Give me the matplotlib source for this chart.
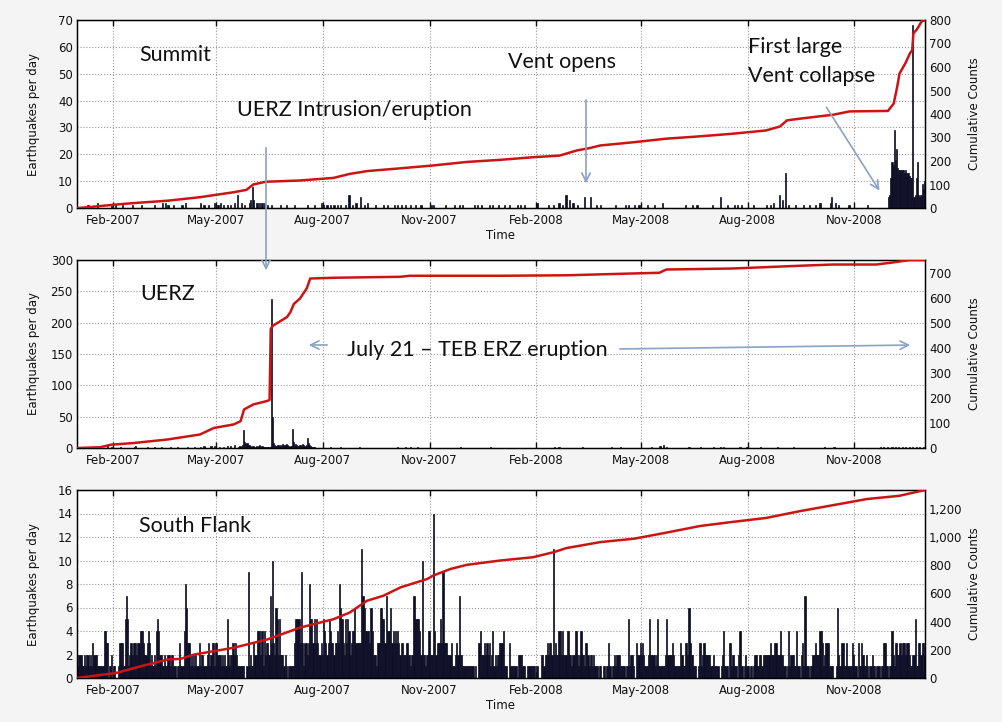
import numpy as np
import matplotlib
matplotlib.use("Agg")
import matplotlib.pyplot as plt
import matplotlib.dates as mdates
from matplotlib.patches import FancyArrowPatch
from matplotlib.ticker import MultipleLocator, FuncFormatter

#%% ---------------- data ------------------------------------

START = np.datetime64("2007-01-01")
END = np.datetime64("2009-01-01")

# Summit: (day since 2007-01-01, earthquakes that day)
summit_bars = [
    (9, 1), (17, 2), (29, 1), (33, 1), (39, 1), (47, 1), (55, 1), (66, 1),
    (73, 2), (76, 2), (78, 1), (83, 1), (90, 1), (93, 2), (106, 2), (109, 1),
    (113, 1), (118, 2), (121, 1), (123, 2), (126, 1), (129, 1), (132, 1),
    (135, 2), (138, 5), (141, 2), (144, 1), (148, 2), (149, 3), (151, 8),
    (152, 3), (154, 2), (155, 2), (157, 2), (159, 2), (161, 2), (164, 1),
    (167, 1), (175, 1), (180, 1), (187, 1), (198, 1), (204, 1), (210, 2),
    (212, 1), (215, 1), (218, 1), (221, 1), (224, 1), (227, 1), (231, 1),
    (234, 5), (237, 1), (240, 2), (244, 4), (247, 1), (250, 2), (257, 1),
    (264, 1), (267, 1), (273, 1), (276, 1), (279, 1), (283, 1), (287, 1),
    (291, 1), (296, 1), (305, 1), (307, 1), (317, 1), (325, 1), (329, 1),
    (332, 1), (342, 1), (345, 1), (348, 1), (355, 1), (358, 1), (363, 1),
    (368, 1), (372, 1), (379, 1), (382, 1), (385, 1), (396, 2), (406, 1),
    (410, 1), (415, 2), (418, 1), (421, 5), (424, 3), (427, 2), (431, 1),
    (437, 4), (442, 4), (447, 1), (451, 1), (464, 1), (472, 1), (475, 1),
    (480, 1), (484, 1), (491, 1), (497, 1), (504, 2), (524, 1), (530, 1),
    (534, 1), (547, 1), (554, 4), (560, 1), (566, 1), (569, 1), (572, 1),
    (583, 1), (594, 1), (597, 1), (600, 2), (605, 5), (608, 3), (610, 13),
    (613, 1), (619, 1), (626, 1), (631, 1), (636, 1), (640, 2), (649, 2),
    (650, 4), (653, 2), (656, 1), (665, 1), (681, 1),
    (699, 4), (700, 5), (701, 11), (702, 17), (703, 16), (704, 29), (705, 18),
    (706, 22), (707, 15), (708, 14), (709, 14), (710, 14), (711, 14),
    (712, 14), (713, 13), (714, 14), (715, 13), (716, 13), (717, 12),
    (718, 11), (719, 11), (720, 68), (721, 4), (722, 5), (723, 11), (724, 17),
    (725, 5), (726, 4), (727, 5), (728, 9), (729, 7), (730, 10),
]
summit_cum_day = [0, 9, 32, 49, 78, 106, 135, 146, 152, 161, 164, 192, 221,
                  235, 250, 279, 307, 336, 365, 393, 416, 431, 442, 451, 480,
                  508, 537, 565, 594, 606, 612, 623, 652, 666, 699, 704, 707,
                  709, 714, 718, 720, 721, 724, 728, 731]
summit_cum = [0, 3, 14, 21, 31, 46, 67, 77, 100, 110, 112, 117, 128, 145, 157,
              169, 181, 196, 205, 216, 223, 245, 255, 266, 280, 295, 305, 316,
              330, 347, 373, 380, 397, 411, 413, 444, 515, 572, 615, 658, 672,
              743, 760, 793, 800]

# UERZ
uerz_bars = [
    (9, 1), (17, 2), (20, 3), (26, 4), (29, 2), (37, 1), (49, 1), (50, 3),
    (60, 1), (66, 1), (72, 1), (80, 2), (86, 1), (95, 1), (101, 1), (106, 2),
    (109, 3), (115, 3), (118, 3), (122, 1), (126, 2), (129, 3), (132, 3),
    (135, 5), (139, 2), (140, 3), (141, 2), (142, 4), (143, 28), (144, 10),
    (145, 6), (146, 8), (147, 4), (148, 5), (149, 3), (150, 2), (151, 3),
    (152, 3), (153, 2), (154, 3), (155, 2), (156, 3), (157, 5), (158, 2),
    (159, 3), (160, 2), (161, 2), (162, 2), (163, 1), (164, 1), (165, 2),
    (166, 2), (167, 237), (168, 50), (169, 8), (170, 4), (171, 3), (172, 5),
    (173, 4), (174, 3), (175, 4), (176, 3), (177, 6), (178, 4), (179, 5),
    (180, 6), (181, 4), (182, 3), (183, 2), (184, 3), (185, 30), (186, 10),
    (187, 5), (188, 6), (189, 4), (190, 3), (191, 5), (192, 4), (193, 3),
    (194, 6), (195, 5), (196, 3), (197, 4), (198, 16), (199, 8), (200, 4),
    (201, 3), (202, 2), (203, 2), (204, 1), (218, 1), (227, 1), (243, 1),
    (276, 1), (283, 1), (287, 2), (293, 1), (330, 1), (356, 1), (411, 1),
    (415, 1), (435, 1), (460, 1), (468, 1), (495, 1), (502, 3), (505, 4),
    (508, 2), (527, 1), (537, 1), (548, 1), (554, 1), (557, 1), (571, 1),
    (577, 2), (589, 1), (603, 1), (617, 1), (644, 1), (652, 1), (692, 1),
    (695, 2), (698, 1), (702, 2), (705, 1), (708, 2), (711, 2), (714, 1),
    (717, 2), (720, 1), (723, 2), (726, 1), (729, 2),
]
uerz_cum_day = [0, 20, 29, 49, 78, 106, 118, 135, 141, 144, 152, 164, 166,
                167, 169, 181, 184, 187, 192, 198, 201, 221, 279, 287, 365,
                422, 502, 508, 565, 623, 652, 689, 703, 718, 731]
uerz_cum = [0, 3, 13, 20, 34, 54, 80, 94, 107, 154, 174, 188, 192, 476, 489,
            523, 543, 576, 596, 637, 677, 680, 684, 688, 688, 690, 700, 713,
            717, 728, 733, 733, 741, 751, 751]

# South Flank: one string per month (Jan 2007 .. Dec 2008), one hex digit per day
south_months = [
    "1222112122" "1213222111" "1114433012" "0",
    "1100133331" "5751232333" "23344432",
    "2343121214" "5422112112" "2122110113" "1",
    "1148633121" "2121131221" "1123123313",
    "3222121215" "2122323211" "1111001912" "1",
    "1322444241" "4233273a32" "6525222121",
    "0111113555" "5393133238" "5535353223" "2",
    "5432354332" "3343865325" "3542344633" "3",
    "33b7644443" "6422213366" "5537444634",
    "3434323322" "2322122755" "5542a22122" "4",
    "222e423335" "3933322231" "1123272211",
    "1111111101" "0034222323" "2312412122" "3",
    "3341110311" "1111022221" "1001111111" "0",
    "1000221223" "2332b23224" "424222442",
    "2122442124" "2213321221" "2111011011" "0",
    "1131011212" "2211110115" "1221003223",
    "2321112522" "2212511111" "1252222321" "1",
    "1113211332" "6322111013" "3123222221",
    "1211110012" "4111033121" "1102411012" "1",
    "1011012211" "2212222223" "2223322242" "2",
    "1101412221" "1411023171" "1101122322",
    "2443123331" "1110016211" "3311311113" "2",
    "1103113211" "2101121101" "1101133110",
    "1142133223" "2333233211" "2251133233" "2",
]
south_cum_day = [0, 34, 55, 78, 89, 101, 135, 164, 192, 221, 235, 250, 264,
                 279, 302, 307, 322, 336, 365, 393, 411, 422, 451, 480, 508,
                 537, 565, 594, 623, 652, 681, 709, 731]
south_cum = [0, 36, 83, 131, 135, 166, 214, 273, 356, 416, 463, 547, 582, 642,
             701, 725, 772, 801, 832, 855, 891, 920, 962, 986, 1029, 1076,
             1105, 1133, 1181, 1224, 1267, 1290, 1331]

#%% ---------------- build arrays ----------------

def sparse(pairs):
    d = np.array([p[0] for p in pairs])
    n = np.array([p[1] for p in pairs])
    return START + d, n

south_x, south_n = [], []
month0 = np.datetime64("2007-01", "M")
for i, s in enumerate(south_months):
    m_start = (month0 + i).astype("datetime64[D]")
    for j, c in enumerate(s):
        south_x.append(m_start + j)
        south_n.append(int(c, 16))
south_x = np.array(south_x)
south_n = np.array(south_n)

panels = [
    dict(bars=sparse(summit_bars), cum=(START + np.array(summit_cum_day), summit_cum),
         ylim=70, ystep=10, rlim=800, rstep=100, name="Summit"),
    dict(bars=sparse(uerz_bars), cum=(START + np.array(uerz_cum_day), uerz_cum),
         ylim=300, ystep=50, rlim=751, rstep=100, name="UERZ"),
    dict(bars=(south_x, south_n), cum=(START + np.array(south_cum_day), south_cum),
         ylim=16, ystep=2, rlim=1331, rstep=200, name="South Flank"),
]

#%% ---------------- figure ----------------

W, H = 1002, 722
BG = "#f4f4f4"
BAR = "#0d0d26"
RED = "#cc1414"
ARROW = "#8aa2c4"
TICK_FS = 8.5
ANN_FONT = ["Lato", "DejaVu Sans"]

fig = plt.figure(figsize=(W / 100, H / 100), dpi=100, facecolor=BG)

# axes boxes in pixels: left, top, right, bottom
boxes = [(77, 20, 925, 208), (77, 260, 925, 448), (77, 490, 925, 678)]

for k, (p, (l, t, r, b)) in enumerate(zip(panels, boxes)):
    ax = fig.add_axes([l / W, 1 - b / H, (r - l) / W, (b - t) / H])
    ax.set_facecolor("white")
    bx, bn = p["bars"]
    ax.bar(bx, bn, width=1.0, align="edge", color=BAR, edgecolor=BAR,
           linewidth=0.5, zorder=2)
    ax.set_xlim(START, END)
    ax.set_ylim(0, p["ylim"])
    ax.yaxis.set_major_locator(MultipleLocator(p["ystep"]))
    ax.xaxis.set_major_locator(mdates.MonthLocator(bymonth=[2, 5, 8, 11]))
    ax.xaxis.set_major_formatter(mdates.DateFormatter("%b-%Y"))
    ax.grid(True, linestyle=":", color="#9a9a9a", linewidth=0.8, zorder=0)
    ax.set_axisbelow(True)
    ax.tick_params(axis="x", direction="in", top=True, length=4, width=1,
                   labelsize=TICK_FS, pad=4, colors="#111111")
    ax.tick_params(axis="y", direction="in", length=0, labelsize=TICK_FS,
                   pad=3, colors="#111111")
    for sp in ax.spines.values():
        sp.set_linewidth(1.0)
    ax.set_ylabel("Earthquakes per day", fontsize=8.5, color="#111111")
    ax.yaxis.set_label_coords(-0.044, 0.5)
    if k != 1:
        ax.set_xlabel("Time", fontsize=8.5, color="#111111")
        ax.xaxis.set_label_coords(0.499, -0.11)

    ax2 = ax.twinx()
    cx, cy = p["cum"]
    ax2.plot(cx, cy, color=RED, linewidth=1.8, zorder=3)
    ax2.set_ylim(0, p["rlim"])
    ax2.set_xlim(START, END)
    ax2.yaxis.set_major_locator(MultipleLocator(p["rstep"]))
    if p["rlim"] > 1000:
        ax2.yaxis.set_major_formatter(FuncFormatter(lambda v, pos: f"{v:,.0f}"))
    ax2.tick_params(axis="y", direction="in", length=0, labelsize=TICK_FS,
                    pad=3, colors="#111111")
    ax2.set_ylabel("Cumulative Counts", fontsize=8.5, color="#111111")
    ax2.yaxis.set_label_coords(1.051, 0.5)

#%% ---------------- annotations ----------------

def fpos(x, y):
    return (x / W, 1 - y / H)

labels = [
    ("Summit", 139, 61),
    ("UERZ Intrusion/eruption", 237, 116),
    ("Vent opens", 508, 68),
    ("First large", 748, 53),
    ("Vent collapse", 748, 82),
    ("UERZ", 140, 300),
    ("July 21 \u2013 TEB ERZ eruption", 347, 356),
    ("South Flank", 139, 532),
]
for txt, x, y in labels:
    fig.text(*fpos(x, y), txt, fontsize=15.5, family=ANN_FONT, color="#111111",
             ha="left", va="baseline")

arrows = [
    ((266, 145), (266, 273)),
    ((586, 97), (586, 186)),
    ((825, 105), (881, 193)),
    ((330, 345), (306, 345)),
    ((617, 349), (913, 345)),
]
for a, b in arrows:
    fig.add_artist(FancyArrowPatch(fpos(*a), fpos(*b), transform=fig.transFigure,
                                   arrowstyle="->,head_length=6,head_width=3",
                                   color=ARROW, linewidth=1.2, zorder=10))

fig.savefig("out.png", dpi=100, facecolor=BG)
